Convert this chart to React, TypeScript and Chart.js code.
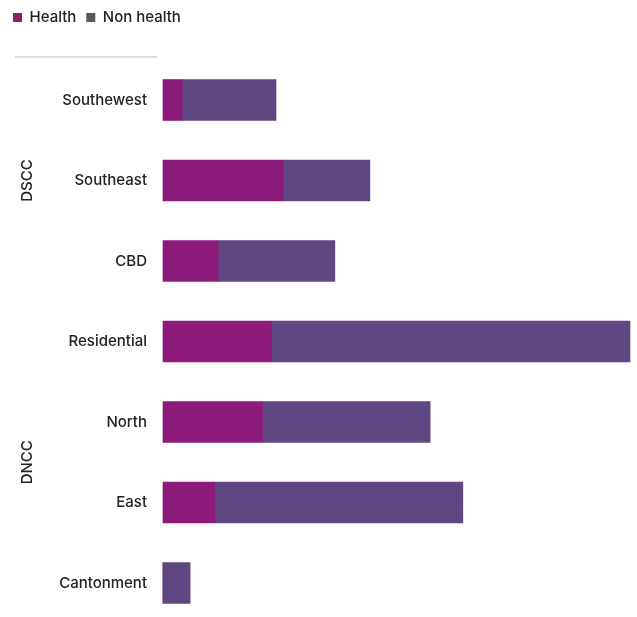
import React, { useEffect, useRef } from "react";
import { Chart, registerables } from "chart.js";

Chart.register(...registerables);

const categories = ["Southewest", "Southeast", "CBD", "Residential", "North", "East", "Cantonment"];
const healthValues = [4.1, 25.7, 11.8, 23.3, 21.3, 11.1, 0];
const nonHealthValues = [20.1, 18.6, 25.0, 76.7, 35.9, 53.1, 5.8];
const groupNames = ["DSCC", "DNCC"];
const groupStart = [0, 3];
const groupEnd = [2, 6];

const HEALTH_COLOR = "#8c1b7c";
const NON_HEALTH_COLOR = "#5f4782";
const LEGEND_COLORS = ["#8e1f6e", "#595959"];
const FONT = "Inter, 'Noto Sans', sans-serif";
const TEXT_COLOR = "#222222";

const groupPlugin = {
  id: "groupLabels",
  afterDraw(chart: any) {
    const ctx = chart.ctx;
    const y = chart.scales.y;
    ctx.save();
    ctx.strokeStyle = "#dcdcdc";
    ctx.lineWidth = 2;
    ctx.beginPath();
    ctx.moveTo(15, 57);
    ctx.lineTo(157, 57);
    ctx.stroke();
    ctx.fillStyle = TEXT_COLOR;
    ctx.font = `500 15px ${FONT}`;
    ctx.textAlign = "center";
    ctx.textBaseline = "middle";
    groupNames.forEach((name, i) => {
      const c = (y.getPixelForValue(groupStart[i]) + y.getPixelForValue(groupEnd[i])) / 2;
      ctx.save();
      ctx.translate(27, c);
      ctx.rotate(-Math.PI / 2);
      ctx.fillText(name, 0, 0);
      ctx.restore();
    });
    ctx.restore();
  },
};

export default function App() {
  const ref = useRef<HTMLCanvasElement | null>(null);
  useEffect(() => {
    if (!ref.current) return;
    const chart = new Chart(ref.current, {
      type: "bar",
      data: {
        labels: categories,
        datasets: [
          { label: "Health", data: healthValues, backgroundColor: HEALTH_COLOR, barThickness: 41, clip: false } as any,
          { label: "Non health", data: nonHealthValues, backgroundColor: NON_HEALTH_COLOR, barThickness: 41, clip: false } as any,
        ],
      },
      options: {
        indexAxis: "y",
        animation: false,
        responsive: true,
        maintainAspectRatio: false,
        layout: { padding: { top: 0, left: 3, right: 7, bottom: 34 } },
        plugins: {
          tooltip: { enabled: false },
          legend: {
            position: "top",
            align: "start",
            labels: {
              boxWidth: 9,
              boxHeight: 9,
              padding: 10,
              color: TEXT_COLOR,
              font: { family: FONT, size: 15, weight: 500 },
              generateLabels: (chart: any) =>
                chart.data.datasets.map((ds: any, i: number) => ({
                  text: ds.label,
                  fillStyle: LEGEND_COLORS[i],
                  strokeStyle: LEGEND_COLORS[i],
                  lineWidth: 0,
                  hidden: false,
                  datasetIndex: i,
                  fontColor: TEXT_COLOR,
                })),
            },
          },
        },
        scales: {
          x: {
            stacked: true,
            position: "top",
            min: 0,
            max: 100,
            grid: { display: false },
            border: { display: false },
            ticks: { display: false },
            afterFit: (s: any) => {
              s.height = 65;
            },
          },
          y: {
            stacked: true,
            offset: false,
            grid: { display: false, drawTicks: false },
            border: { display: false },
            ticks: {
              color: TEXT_COLOR,
              padding: 16,
              font: { family: FONT, size: 15, weight: 500 },
            },
            afterFit: (s: any) => {
              s.width = 160;
            },
          },
        },
      },
      plugins: [groupPlugin],
    });
    return () => chart.destroy();
  }, []);
  return (
    <div style={{ position: "fixed", top: 0, left: 0, width: 637, height: 617, background: "#fff" }}>
      <canvas ref={ref} />
    </div>
  );
}
